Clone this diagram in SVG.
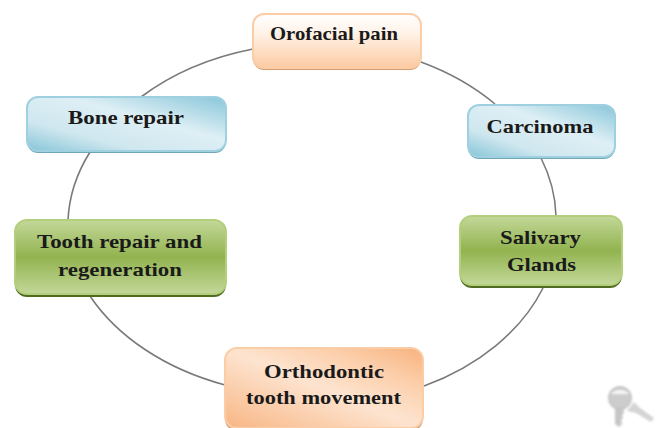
<svg xmlns="http://www.w3.org/2000/svg" width="660" height="428" viewBox="0 0 660 428">
<style>
.c{fill:none;stroke:#7a7a7a;stroke-width:1.6}
.t{font-family:"Liberation Serif","Times New Roman",serif;font-weight:bold;font-size:19px;fill:#1a1a1a;text-anchor:middle}
.o{stroke:#fbcda6;stroke-width:2}
.b{stroke:#9fd0df;stroke-width:2}
.g{stroke:#b3cf7c;stroke-width:2}
</style>
<defs>
<linearGradient id="go1" x1="0" y1="0" x2="0" y2="1"><stop offset="0" stop-color="#fff"/><stop offset=".35" stop-color="#fff3e8"/><stop offset="1" stop-color="#fccaa2"/></linearGradient>
<linearGradient id="go2" x1="0" y1="1" x2="1" y2="0"><stop offset="0" stop-color="#f8b684"/><stop offset=".5" stop-color="#fde4d0"/><stop offset=".75" stop-color="#fccfab"/><stop offset="1" stop-color="#f7b27d"/></linearGradient>
<linearGradient id="gb" x1="0" y1="1" x2="1" y2="0"><stop offset="0" stop-color="#86c5d8"/><stop offset=".28" stop-color="#cfe7ef"/><stop offset=".6" stop-color="#deeff5"/><stop offset="1" stop-color="#88c6d9"/></linearGradient>
<linearGradient id="gg" x1="0" y1="0" x2="0" y2="1"><stop offset="0" stop-color="#c3d899"/><stop offset=".5" stop-color="#92b34f"/><stop offset="1" stop-color="#c3d899"/></linearGradient>
<filter id="blur" x="-10%" y="-10%" width="120%" height="120%"><feGaussianBlur stdDeviation=".8"/></filter>
<filter id="soft" x="-5%" y="-5%" width="110%" height="115%"><feGaussianBlur stdDeviation=".7"/></filter>
</defs>
<rect width="660" height="428" fill="#fff"/>
<g id="connectors">
<path class="c" d="M253 49A244 178 0 0 0 141 97"/>
<path class="c" d="M90 152A244 178 0 0 0 68 220"/>
<path class="c" d="M90 296A244 178 0 0 0 225 385"/>
<path class="c" d="M424 386A244 178 0 0 0 543 288"/>
<path class="c" d="M556 216A244 178 0 0 0 541 158"/>
<path class="c" d="M495 104A244 178 0 0 0 421 62"/>
</g>
<g id="orofacial">
<rect x="253" y="16" width="168" height="54" rx="11" fill="#d49a70" filter="url(#soft)"/>
<rect x="253" y="14" width="168" height="54" rx="11" fill="url(#go1)" class="o"/>
<text class="t" x="334" y="40" textLength="128" lengthAdjust="spacingAndGlyphs">Orofacial pain</text>
</g>
<g id="bone-repair">
<rect x="27" y="99" width="199" height="54" rx="11" fill="#6fa6b9" filter="url(#soft)"/>
<rect x="27" y="97" width="199" height="54" rx="11" fill="url(#gb)" class="b"/>
<text class="t" x="126" y="124" textLength="116" lengthAdjust="spacingAndGlyphs">Bone repair</text>
</g>
<g id="carcinoma">
<rect x="468" y="107" width="147" height="52" rx="11" fill="#6fa6b9" filter="url(#soft)"/>
<rect x="468" y="105" width="147" height="52" rx="11" fill="url(#gb)" class="b"/>
<text class="t" x="540" y="133" textLength="107" lengthAdjust="spacingAndGlyphs">Carcinoma</text>
</g>
<g id="salivary">
<rect x="460" y="219" width="162" height="69" rx="12" fill="#4f6c20" filter="url(#soft)"/>
<rect x="460" y="216" width="162" height="69" rx="12" fill="url(#gg)" class="g"/>
<text class="t" x="540.500" y="244" textLength="81" lengthAdjust="spacingAndGlyphs">Salivary</text>
<text class="t" x="541.500" y="271" textLength="69" lengthAdjust="spacingAndGlyphs">Glands</text>
</g>
<g id="tooth-repair">
<rect x="15" y="223" width="211" height="74" rx="12" fill="#4f6c20" filter="url(#soft)"/>
<rect x="15" y="220" width="211" height="74" rx="12" fill="url(#gg)" class="g"/>
<text class="t" x="119.500" y="248" textLength="165" lengthAdjust="spacingAndGlyphs">Tooth repair and</text>
<text class="t" x="120" y="276" textLength="124" lengthAdjust="spacingAndGlyphs">regeneration</text>
</g>
<g id="orthodontic">
<rect x="225" y="350" width="198" height="81" rx="12" fill="#cf9a72" filter="url(#soft)"/>
<rect x="225" y="348" width="198" height="80" rx="12" fill="url(#go2)" class="o"/>
<text class="t" x="324" y="378" textLength="120" lengthAdjust="spacingAndGlyphs">Orthodontic</text>
<text class="t" x="323.500" y="404" textLength="155" lengthAdjust="spacingAndGlyphs">tooth movement</text>
</g>
<g id="watermark" filter="url(#blur)">
<path d="M634 402L640 408 654 418 651 422 636 413 627 411z" fill="#d4d4d4"/>
<circle cx="620" cy="398" r="11" fill="#cdcdcd" stroke="#c6c6c6" stroke-width="2"/>
<path d="M611 394a10 7 0 0 1 18 0z" fill="#f6f6f6"/>
<path d="M615 407h8l1 6-2 2 1 3-2 2 1 4-3 3-4-3z" fill="#c6c6c6"/>
</g>
</svg>
